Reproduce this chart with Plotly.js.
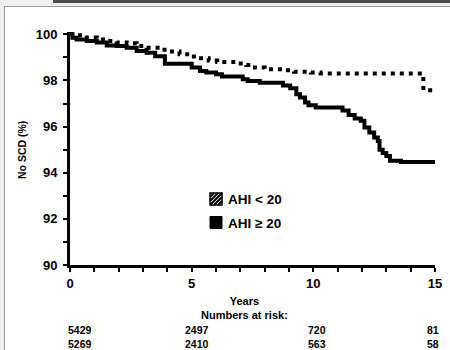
<!DOCTYPE html>
<html>
<head>
<meta charset="utf-8">
<script src="https://cdn.plot.ly/plotly-3.0.1.min.js"></script>
<style>
  html, body { margin:0; padding:0; }
  body { width:450px; height:350px; overflow:hidden; position:relative; background:#efefef; }
  #bar { position:absolute; left:53px; top:0; width:397px; height:3px; background:#4a4a4a; }
  #frame { position:absolute; left:4px; top:6px; width:445px; height:343px; background:#fff;
           border-left:1px solid #9a9a9a; border-top:1px solid #9a9a9a; }
  #plot { position:absolute; left:6px; top:8px; width:444px; height:342px; }
</style>
</head>
<body>
<div id="bar"></div>
<div id="frame"></div>
<div id="plot"></div>
<script>
// AHI < 20 (dotted)
const lowYears  = [0, 0.27, 0.69, 1.1, 1.51, 1.92, 2.33, 2.74, 3.15, 3.6, 4.1, 4.5, 4.95, 5.3, 5.7, 6.05, 6.85, 7.25, 7.6, 8.0, 8.8, 9.2, 9.9, 10.3, 14.52, 15];
const lowSurv   = [100, 99.96, 99.86, 99.78, 99.71, 99.64, 99.61, 99.49, 99.42, 99.33, 99.26, 99.14, 99.04, 98.96, 98.86, 98.8, 98.73, 98.67, 98.56, 98.48, 98.44, 98.38, 98.34, 98.3, 97.58, 97.58];
// AHI >= 20 (solid)
const highYears = [0, 0.1, 0.27, 0.69, 1.1, 1.51, 1.92, 2.33, 2.74, 3.15, 3.5, 3.9, 5.0, 5.34, 5.6, 6.0, 6.24, 7.1, 7.3, 7.8, 8.75, 9.05, 9.3, 9.45, 9.66, 9.8, 10.1, 11.2, 11.45, 11.7, 11.95, 12.1, 12.3, 12.5, 12.65, 12.72, 12.85, 13.0, 13.15, 13.6, 15];
const highSurv  = [100, 99.85, 99.78, 99.71, 99.64, 99.52, 99.49, 99.42, 99.28, 99.2, 99.05, 98.72, 98.56, 98.41, 98.34, 98.27, 98.17, 98.05, 97.98, 97.9, 97.78, 97.66, 97.4, 97.26, 97.04, 96.93, 96.83, 96.7, 96.5, 96.35, 96.25, 95.96, 95.74, 95.53, 95.38, 95.0, 94.85, 94.72, 94.52, 94.47, 94.47];

const legendLabels = ['AHI < 20', 'AHI \u2265 20'];
const riskYears = [0, 5, 10, 15];
const riskLow  = ['5429', '2497', '720', '81'];
const riskHigh = ['5269', '2410', '563', '58'];
const xTickVals = [0, 5, 10, 15];
const yTickVals = [90, 92, 94, 96, 98, 100];

const FONT = 'Liberation Sans, Arial, sans-serif';
const W = 444, H = 342, M = {l:64, r:15, t:24, b:85};
const PW = W - M.l - M.r, PH = H - M.t - M.b;
const OX = 6, OY = 8;
const px = p => (p - OX - M.l) / PW;
const py = p => (OY + M.t + PH - p) / PH;

const traces = [
  {x: highYears, y: highSurv, type:'scatter', mode:'lines', line:{shape:'hv', color:'#000', width:4}, showlegend:false, hoverinfo:'skip'},
  {x: lowYears, y: lowSurv, type:'scatter', mode:'lines', line:{shape:'hv', color:'#000', width:4, dash:'4px,5px'}, showlegend:false, hoverinfo:'skip'}
];

const shapes = [];
const annotations = [];

// legend: hatched square and black square
const sx0 = 210, sz = 12, hy0 = 193, by0 = 216.5;
shapes.push({type:'rect', xref:'paper', yref:'paper', x0:px(sx0), x1:px(sx0+sz), y0:py(hy0+sz), y1:py(hy0), line:{color:'#000', width:1.5}, fillcolor:'#fff'});
let hatch = '';
[-8, -4, 0, 4, 8].forEach(c => {
  let u0, v0, u1, v1;
  if (c >= 0) { u0 = c; v0 = 0; u1 = sz; v1 = sz - c; } else { u0 = 0; v0 = -c; u1 = sz + c; v1 = sz; }
  hatch += `M${px(sx0+u0)},${py(hy0+sz-v0)} L${px(sx0+u1)},${py(hy0+sz-v1)} `;
});
shapes.push({type:'path', xref:'paper', yref:'paper', path:hatch, line:{color:'#000', width:2}});
shapes.push({type:'rect', xref:'paper', yref:'paper', x0:px(sx0), x1:px(sx0+sz), y0:py(by0+sz), y1:py(by0), line:{color:'#000', width:1}, fillcolor:'#000'});
[hy0, by0].forEach((yy, i) => {
  annotations.push({xref:'paper', yref:'paper', x:px(sx0+sz+4), y:py(yy+sz/2+0.5), xanchor:'left', yanchor:'middle', showarrow:false,
    text:legendLabels[i], font:{family:FONT, size:13.5, color:'#000', weight:'bold'}});
});

// y axis title
annotations.push({xref:'paper', yref:'paper', x:px(22), y:py(150), xanchor:'center', yanchor:'middle', showarrow:false, textangle:-90,
  text:'No SCD (%)', font:{family:FONT, size:10.5, color:'#000', weight:'bold'}});
// Years / Numbers at risk
annotations.push({xref:'paper', yref:'paper', x:px(244), y:py(307.5), xanchor:'center', yanchor:'middle', showarrow:false,
  text:'Years<br>Numbers at risk:', font:{family:FONT, size:11, color:'#000', weight:'bold'}});
const riskShift = [9.5, 5, 4, -2.5];
riskYears.forEach((yr, i) => {
  annotations.push({xref:'x', yref:'paper', x:yr, y:py(337), xshift:riskShift[i], xanchor:'center', yanchor:'middle', showarrow:false,
    text:riskLow[i] + '<br>' + riskHigh[i], font:{family:FONT, size:10.5, color:'#000', weight:'bold'}});
});

const layout = {
  width:W, height:H, margin:M,
  paper_bgcolor:'rgba(0,0,0,0)', plot_bgcolor:'rgba(0,0,0,0)',
  showlegend:false,
  xaxis:{range:[0,15], tickvals:xTickVals, ticktext:xTickVals.map(String), showgrid:false, zeroline:false,
    showline:true, linecolor:'#000', linewidth:3, ticks:'outside', ticklen:4, tickwidth:2, tickcolor:'#000',
    minor:{dtick:1, tick0:0, ticks:'outside', ticklen:4, tickwidth:2, tickcolor:'#000', showgrid:false},
    tickfont:{family:FONT, size:13, color:'#000', weight:'bold'}, fixedrange:true},
  yaxis:{range:[90,100.1], tickvals:yTickVals, ticktext:yTickVals.map(String), showgrid:false, zeroline:false,
    showline:true, linecolor:'#000', linewidth:3, ticks:'outside', ticklen:4, tickwidth:2, tickcolor:'#000',
    minor:{dtick:1, tick0:90, ticks:'outside', ticklen:4, tickwidth:2, tickcolor:'#000', showgrid:false},
    tickfont:{family:FONT, size:13, color:'#000', weight:'bold'}, ticklabelstandoff:3, fixedrange:true},
  shapes:shapes, annotations:annotations
};

Plotly.newPlot('plot', traces, layout, {displayModeBar:false, staticPlot:true});
</script>
</body>
</html>
